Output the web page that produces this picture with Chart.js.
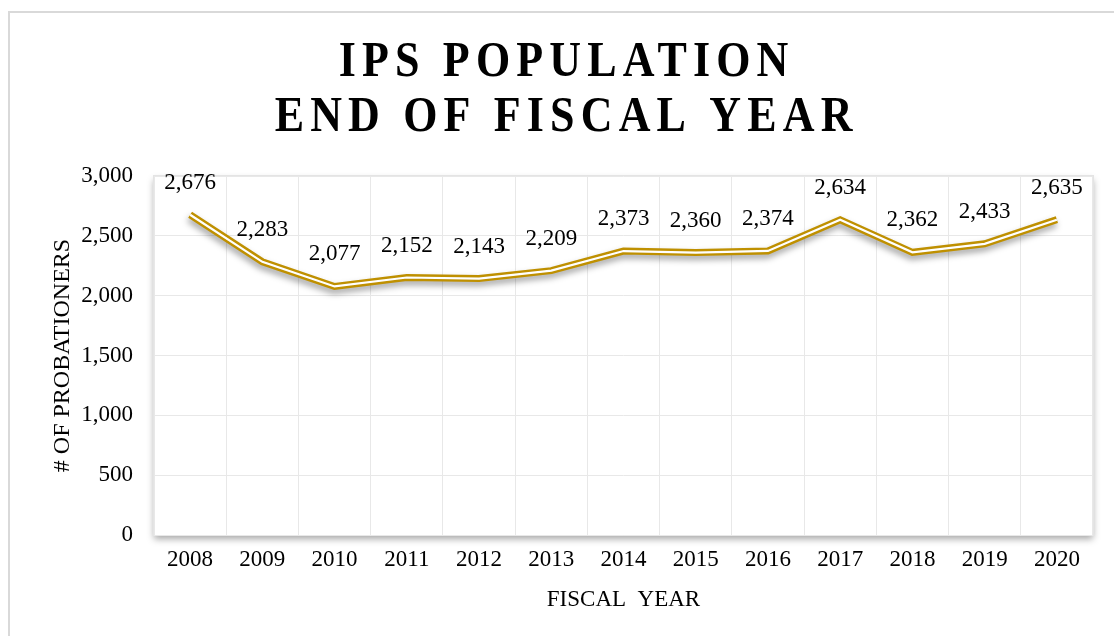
<!DOCTYPE html>
<html>
<head>
<meta charset="utf-8">
<script src="https://cdn.jsdelivr.net/npm/chart.js@4/dist/chart.umd.min.js"></script>
<style>
	html, body { margin: 0; padding: 0; background: #fff; }
	#wrap { position: relative; width: 1114px; height: 636px; }
</style>
</head>
<body>
<div id="wrap"><canvas id="chart" width="1114" height="636"></canvas></div>
<script>
"use strict";

// Data

var YEARS = ["2008", "2009", "2010", "2011", "2012", "2013", "2014", "2015",
	"2016", "2017", "2018", "2019", "2020"];
var POPULATION = [2676, 2283, 2077, 2152, 2143, 2209, 2373, 2360, 2374, 2634,
	2362, 2433, 2635];
var TITLE_LINES = ["IPS POPULATION", "END OF FISCAL YEAR"];

var GOLD = "#bf9000",
	SERIF = "'Liberation Serif', 'Times New Roman', serif";

// Plugins

// outer frame plus white plot area with a soft drop shadow
var frame = {
	id: "frame",
	beforeDraw: function (chart) {
		var ctx = chart.ctx, a = chart.chartArea;

		ctx.save();
		ctx.strokeStyle = "#d9d9d9";
		ctx.lineWidth = 2;
		ctx.strokeRect(9, 12, chart.width + 10, chart.height + 10);
		ctx.shadowColor = "rgba(0,0,0,0.35)";
		ctx.shadowBlur = 7;
		ctx.shadowOffsetY = 4;
		ctx.fillStyle = "#fff";
		ctx.fillRect(a.left, a.top, a.right - a.left, a.bottom - a.top);
		ctx.restore();
		ctx.save();
		ctx.strokeStyle = "#e4e4e4";
		ctx.lineWidth = 1;
		ctx.strokeRect(a.left - 0.5, a.top - 0.5, a.right - a.left + 1, a.bottom - a.top + 1);
		ctx.restore();
	},
	// condensed, letter-spaced bold title (Chart.js title can't do this)
	afterDraw: function (chart) {
		var ctx = chart.ctx;

		ctx.save();
		ctx.fillStyle = "#000";
		ctx.font = "bold 50px " + SERIF;
		ctx.textAlign = "center";
		ctx.textBaseline = "alphabetic";
		TITLE_LINES.forEach(function (line, i) {
			ctx.save();
			ctx.translate(564, 76 + i * 55);
			ctx.scale(0.88, 1);
			ctx.letterSpacing = "7px";
			ctx.fillText(line, 3, 0);
			ctx.restore();
		});
		ctx.restore();
	}
};

// shadow under the gold line only
var lineShadow = {
	id: "lineShadow",
	beforeDatasetDraw: function (chart, args) {
		if (args.index !== 0) {
			return;
		}
		var ctx = chart.ctx;
		ctx.save();
		ctx.shadowColor = "rgba(0,0,0,0.35)";
		ctx.shadowBlur = 6;
		ctx.shadowOffsetX = -1;
		ctx.shadowOffsetY = 4;
	},
	afterDatasetDraw: function (chart, args) {
		if (args.index === 0) {
			chart.ctx.restore();
		}
	}
};

// value labels above each point
var valueLabels = {
	id: "valueLabels",
	afterDatasetsDraw: function (chart) {
		var ctx = chart.ctx, meta = chart.getDatasetMeta(0);

		ctx.save();
		ctx.font = "23px " + SERIF;
		ctx.fillStyle = "#000";
		ctx.textAlign = "center";
		ctx.textBaseline = "middle";
		meta.data.forEach(function (pt, i) {
			ctx.fillText(POPULATION[i].toLocaleString("en-US"), pt.x, pt.y - 32);
		});
		ctx.restore();
	}
};

// Chart

new Chart(document.getElementById("chart"), {
	type: "line",
	data: {
		labels: YEARS,
		datasets: [
			{
				data: POPULATION,
				borderColor: GOLD,
				borderWidth: 7,
				pointRadius: 0,
				tension: 0,
				order: 2,
				borderJoinStyle: "miter"
			},
			{
				data: POPULATION,
				borderColor: "#fff",
				borderWidth: 2.2,
				pointRadius: 0,
				tension: 0,
				order: 1,
				borderJoinStyle: "miter"
			}
		]
	},
	options: {
		responsive: false,
		animation: false,
		layout: { padding: { left: 48, right: 21, top: 176, bottom: 22 } },
		plugins: {
			legend: { display: false },
			tooltip: { enabled: false },
			title: { display: false }
		},
		scales: {
			x: {
				offset: true,
				grid: { color: "#e8e8e8", offset: true, drawTicks: false },
				border: { display: false },
				ticks: {
					color: "#000",
					padding: 11,
					font: { family: SERIF, size: 23 }
				},
				title: {
					display: true,
					text: "FISCAL  YEAR",
					color: "#000",
					font: { family: SERIF, size: 23 },
					padding: { top: 12, bottom: 0 }
				},
				afterFit: function (scale) { scale.height = 79; }
			},
			y: {
				min: 0,
				max: 3000,
				grid: { color: "#e8e8e8", drawTicks: false },
				border: { display: false },
				ticks: {
					stepSize: 500,
					color: "#000",
					padding: 21,
					font: { family: SERIF, size: 23 },
					callback: function (v) { return v.toLocaleString("en-US"); }
				},
				title: {
					display: true,
					text: "# OF PROBATIONERS",
					color: "#000",
					font: { family: SERIF, size: 24 },
					padding: { top: 0, bottom: 0 }
				},
				afterFit: function (scale) { scale.width = 106; }
			}
		}
	},
	plugins: [frame, lineShadow, valueLabels]
});
</script>
</body>
</html>
